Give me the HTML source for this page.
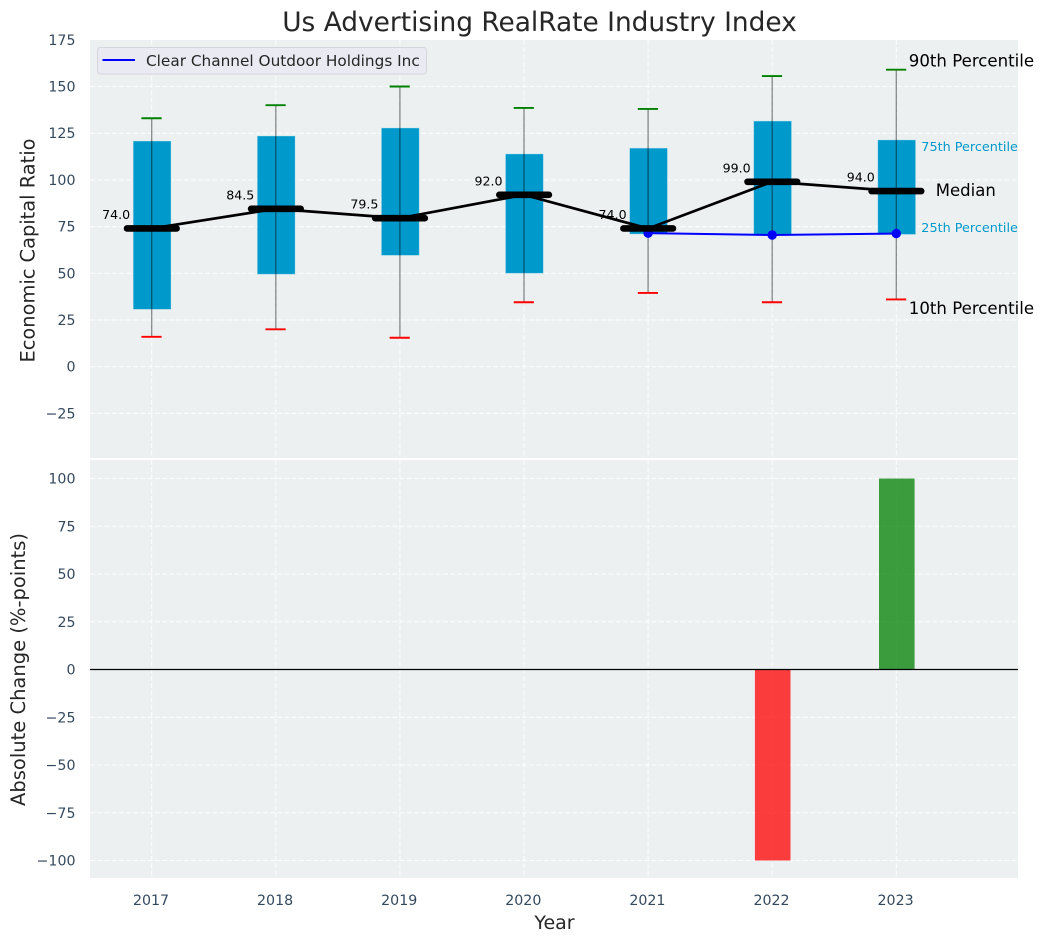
<!DOCTYPE html>
<html lang="en">
<head>
<meta charset="utf-8">
<title>Us Advertising RealRate Industry Index</title>
<style>
html,body{margin:0;padding:0;background:#fff;}
svg{display:block;font-family:"DejaVu Sans","Liberation Sans",sans-serif;}
</style>
</head>
<body>
<svg id="chart" xmlns="http://www.w3.org/2000/svg" width="1044" height="942" viewBox="0 0 1044 942"></svg>
<script>
const years = [2017, 2018, 2019, 2020, 2021, 2022, 2023];
const p10 = [16, 20, 15.5, 34.5, 39.5, 34.5, 36];
const p25 = [30.7, 49.5, 59.6, 50, 71, 70.6, 70.8];
const medians = [74, 84.5, 79.5, 92, 74, 99, 94];
const p75 = [120.8, 123.5, 127.8, 113.9, 117, 131.5, 121.4];
const p90 = [133, 140, 150, 138.5, 138, 155.6, 159];
const companyYears = [2021, 2022, 2023];
const companyValues = [71.5, 70.5, 71.3];
const changeYears = [2022, 2023];
const changeValues = [-100, 100];
const topTicks = [175, 150, 125, 100, 75, 50, 25, 0, -25];
const bottomTicks = [100, 75, 50, 25, 0, -25, -50, -75, -100];

const svg = document.getElementById('chart');
const NS = 'http://www.w3.org/2000/svg';
const plotLeft = 90, plotRight = 1018;
const topPanelTop = 40, topPanelBottom = 458;
const bottomPanelTop = 460, bottomPanelBottom = 878;

function xScale(v) { return 151.7 + (v - 2017) * 124.1; }
function yTop(v) { return 366.7 - v * 1.868; }
function yBottom(v) { return 669.5 - v * 1.91; }

function make(tag, attrs, text) {
  const el = document.createElementNS(NS, tag);
  for (const k in attrs) el.setAttribute(k, attrs[k]);
  if (text !== undefined) el.textContent = text;
  svg.appendChild(el);
  return el;
}
function minus(v) { return String(v).replace('-', '\u2212'); }

// panels
let el = make('rect', {x: plotLeft, y: topPanelTop, width: plotRight - plotLeft, height: topPanelBottom - topPanelTop, fill: '#ecf0f1'});


el = make('rect', {x: plotLeft, y: bottomPanelTop, width: plotRight - plotLeft, height: bottomPanelBottom - bottomPanelTop, fill: '#ecf0f1'});



// horizontal grid and y ticks
topTicks.forEach(function (t) {
  const y = yTop(t);
  if (t !== 175) {
    const g = make('line', {x1: plotLeft, x2: plotRight, y1: y, y2: y, stroke: '#fff', 'stroke-width': 1, 'stroke-dasharray': '5 2.2', opacity: 0.9});
    
    
  }
  const l = make('text', {x: 75.5, y: y + 5, 'text-anchor': 'end', 'font-size': 14.2, fill: '#34495e'}, minus(t));
  
  
});
bottomTicks.forEach(function (t) {
  const y = yBottom(t);
  const g = make('line', {x1: plotLeft, x2: plotRight, y1: y, y2: y, stroke: '#fff', 'stroke-width': 1, 'stroke-dasharray': '5 2.2', opacity: 0.9});
  
  
  const l = make('text', {x: 75.5, y: y + 5, 'text-anchor': 'end', 'font-size': 14.2, fill: '#34495e'}, minus(t));
  
  
});

// vertical grid and x ticks
years.forEach(function (yr) {
  const x = xScale(yr);
  let g = make('line', {x1: x, x2: x, y1: topPanelTop, y2: topPanelBottom, stroke: '#fff', 'stroke-width': 1, 'stroke-dasharray': '5 2.2', opacity: 0.9});
  
  
  g = make('line', {x1: x, x2: x, y1: bottomPanelTop, y2: bottomPanelBottom, stroke: '#fff', 'stroke-width': 1, 'stroke-dasharray': '5 2.2', opacity: 0.9});
  
  
  const l = make('text', {x: x - 0.7, y: 905, 'text-anchor': 'middle', 'font-size': 14.2, fill: '#34495e'}, String(yr));
  
  
});

// boxes
years.forEach(function (yr, i) {
  const x = xScale(yr);
  const b = make('rect', {x: x - 18.5, y: yTop(p75[i]), width: 37.8, height: yTop(p25[i]) - yTop(p75[i]), fill: '#0099cc', stroke: '#bfe5f2', 'stroke-opacity': 0.5, 'stroke-width': 0.8});
  
  
});

// whiskers
years.forEach(function (yr, i) {
  const x = xScale(yr);
  const w = make('line', {x1: x, x2: x, y1: yTop(p90[i]), y2: yTop(p10[i]), stroke: '#000', 'stroke-opacity': 0.45, 'stroke-width': 1.3});
  
  
  const hi = make('line', {x1: x - 10.3, x2: x + 9.9, y1: yTop(p90[i]), y2: yTop(p90[i]), stroke: 'green', 'stroke-width': 1.9});
  
  
  const lo = make('line', {x1: x - 10.3, x2: x + 9.9, y1: yTop(p10[i]), y2: yTop(p10[i]), stroke: 'red', 'stroke-width': 1.9});
  
  
});

// company series
const companyPoints = companyYears.map(function (yr, i) { return xScale(yr) + ',' + yTop(companyValues[i]); }).join(' ');
el = make('polyline', {points: companyPoints, fill: 'none', stroke: '#0000ff', 'stroke-width': 2});


companyYears.forEach(function (yr, i) {
  const c = make('circle', {cx: xScale(yr), cy: yTop(companyValues[i]), r: 4.7, fill: '#0000ff'});
  
  
});

// median line
const medianPoints = years.map(function (yr, i) { return xScale(yr) + ',' + yTop(medians[i]); }).join(' ');
el = make('polyline', {points: medianPoints, fill: 'none', stroke: '#000', 'stroke-width': 2.7});


years.forEach(function (yr, i) {
  const x = xScale(yr), y = yTop(medians[i]);
  const m = make('line', {x1: x - 24.7, x2: x + 24.9, y1: y, y2: y, stroke: '#000', 'stroke-width': 6.6, 'stroke-linecap': 'round'});
  
  
  const t = make('text', {x: x - 21.5, y: y - 9.5, 'text-anchor': 'end', 'font-size': 12.6, fill: '#000'}, medians[i].toFixed(1));
  
  
});

// change bars
changeYears.forEach(function (yr, i) {
  const x = xScale(yr);
  const v = changeValues[i];
  const y0 = yBottom(0), y1 = yBottom(v);
  const b = make('rect', {x: x - 17.3, y: Math.min(y0, y1), width: 35.6, height: Math.abs(y1 - y0), fill: v < 0 ? 'red' : 'green', 'fill-opacity': 0.75});
  
  
});
el = make('line', {x1: plotLeft, x2: plotRight, y1: yBottom(0), y2: yBottom(0), stroke: '#000', 'stroke-width': 1.3});



// percentile annotations on the last year
const lastIdx = years.length - 1;
const lastX = xScale(years[lastIdx]);
el = make('text', {x: lastX + 12.5, y: yTop(p90[lastIdx]) - 3, 'font-size': 16.6, fill: '#000'}, '90th Percentile');


el = make('text', {x: lastX + 12.5, y: yTop(p10[lastIdx]) + 14.5, 'font-size': 16.6, fill: '#000'}, '10th Percentile');


el = make('text', {x: lastX + 39.5, y: yTop(medians[lastIdx]) + 5, 'font-size': 16.5, fill: '#000'}, 'Median');


el = make('text', {x: lastX + 25, y: yTop(p75[lastIdx]) + 11, 'font-size': 12.8, fill: '#0099cc'}, '75th Percentile');


el = make('text', {x: lastX + 25, y: yTop(p25[lastIdx]) - 2.5, 'font-size': 12.8, fill: '#0099cc'}, '25th Percentile');



// legend
el = make('rect', {x: 97.5, y: 47.5, width: 329, height: 26.5, rx: 3, fill: '#eaeaf2', 'fill-opacity': 0.8, stroke: '#d5d5dd', 'stroke-width': 1});


el = make('line', {x1: 102.5, x2: 135, y1: 60, y2: 60, stroke: '#0000ff', 'stroke-width': 2});


el = make('text', {x: 146, y: 66, 'font-size': 15.3, fill: '#262626'}, 'Clear Channel Outdoor Holdings Inc');



// titles
el = make('text', {x: 539.5, y: 31, 'text-anchor': 'middle', 'font-size': 26.4, fill: '#262626'}, 'Us Advertising RealRate Industry Index');


el = make('text', {x: 554.5, y: 929, 'text-anchor': 'middle', 'font-size': 19, fill: '#262626'}, 'Year');


el = make('text', {transform: 'translate(34.5,250.5) rotate(-90)', 'text-anchor': 'middle', 'font-size': 19.4, fill: '#262626'}, 'Economic Capital Ratio');


el = make('text', {transform: 'translate(25,669.5) rotate(-90)', 'text-anchor': 'middle', 'font-size': 19.5, fill: '#262626'}, 'Absolute Change (%-points)');


</script>
</body>
</html>
